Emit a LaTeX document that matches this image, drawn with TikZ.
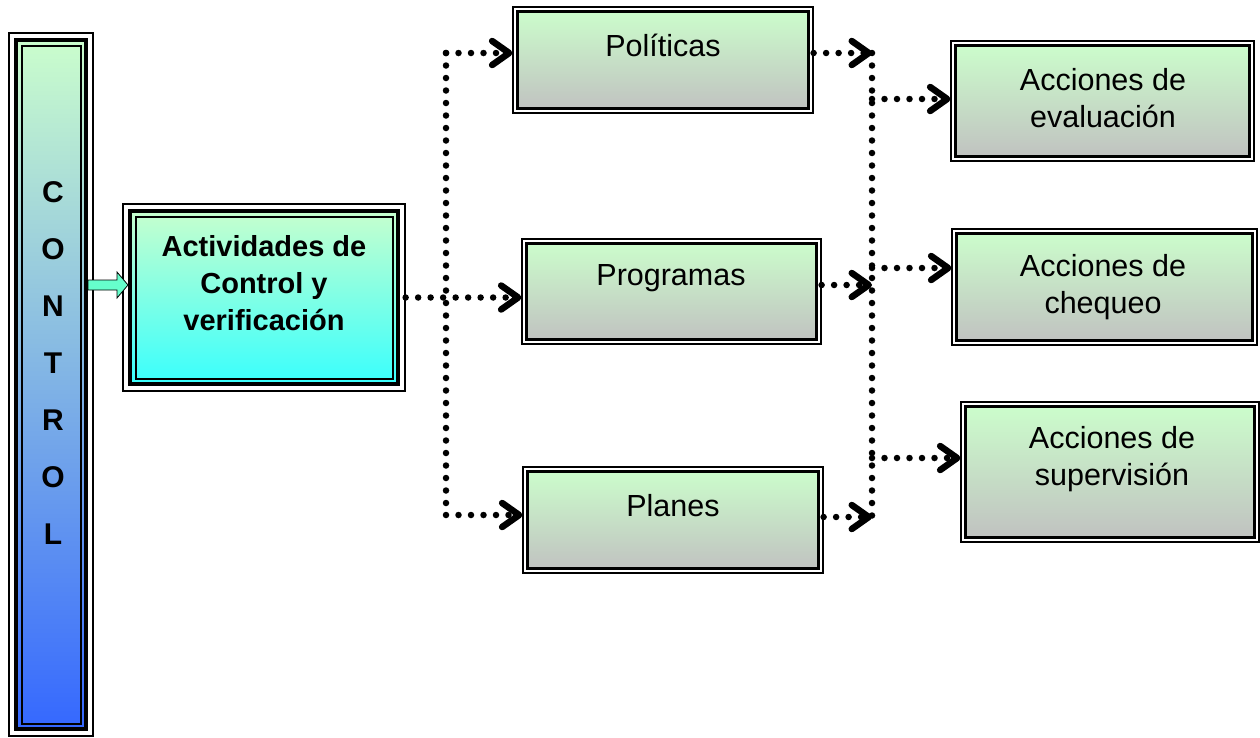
\documentclass[tikz,border=0pt]{standalone}
\usepackage{fontspec}
\setmainfont{Liberation Sans}
\usetikzlibrary{arrows.meta,calc}
\definecolor{lgreen}{RGB}{204,255,204}
\definecolor{ggray}{RGB}{192,192,192}
\definecolor{cyanb}{RGB}{51,255,255}
\definecolor{blueb}{RGB}{51,102,255}
\definecolor{aquaf}{RGB}{102,255,204}
\tikzset{
  dots/.style={line width=6.5pt, line cap=round, dash pattern=on 0pt off 12.5pt},
  chev/.style={-{Straight Barb[length=17pt,width=24pt,line width'=6.5pt,round]}},
  gbox/.style={rectangle, draw=black, line width=1.2pt, fill=white, inner sep=0pt,
    path picture={
      \shadedraw[top color=lgreen, bottom color=ggray, draw=black, line width=3pt]
        ([shift={(4.6pt,-4.6pt)}]path picture bounding box.north west) rectangle
        ([shift={(-4.6pt,4.6pt)}]path picture bounding box.south east);}},
  tbox/.style 2 args={rectangle, draw=black, line width=1.3pt, fill=white, inner sep=0pt,
    path picture={
      \shadedraw[top color=#1, bottom color=#2, draw=black, line width=4.5pt]
        ([shift={(7pt,-7pt)}]path picture bounding box.north west) rectangle
        ([shift={(-7pt,7pt)}]path picture bounding box.south east);
      \draw[black, line width=2pt]
        ([shift={(12.5pt,-12.5pt)}]path picture bounding box.north west) rectangle
        ([shift={(-12.5pt,12.5pt)}]path picture bounding box.south east);}},
  reg/.style={align=center, font=\fontsize{30.5}{37}\selectfont, inner sep=0pt},
  bld/.style={align=center, font=\fontsize{29}{37}\selectfont\bfseries, inner sep=0pt},
}
\begin{document}
\begin{tikzpicture}[x=1pt,y=-1pt]
\useasboundingbox[fill=white] (0,0) rectangle (1260,737);

% boxes
\node[tbox={lgreen}{blueb}, minimum width=84pt, minimum height=703pt] (ctrl) at (51,384.5) {};
\node[tbox={lgreen}{cyanb}, minimum width=282pt, minimum height=187pt] (act) at (264,297.5) {};
\node[gbox, minimum width=300pt, minimum height=106pt] (pol) at (663,60) {};
\node[gbox, minimum width=299pt, minimum height=105pt] (prog) at (671.5,291.5) {};
\node[gbox, minimum width=300pt, minimum height=106pt] (plan) at (673,520) {};
\node[gbox, minimum width=303pt, minimum height=120pt] (eval) at (1102.5,101) {};
\node[gbox, minimum width=305pt, minimum height=116pt] (cheq) at (1104.5,287) {};
\node[gbox, minimum width=298pt, minimum height=140pt] (sup) at (1110,472) {};

% texts
\node[align=center, font=\fontsize{30}{57}\selectfont\bfseries, inner sep=0pt] (ctrl-t) at (53,363.5) {C\\O\\N\\T\\R\\O\\L};
\node[bld] (act-t) at (264,283) {Actividades de\\Control y\\verificación};
\node[reg] (pol-t) at (663,45) {Políticas};
\node[reg] (prog-t) at (671,278) {Programas};
\node[reg] (plan-t) at (673,506) {Planes};
\node[reg] (eval-t) at (1103,98) {Acciones de\\evaluación};
\node[reg] (cheq-t) at (1103,287) {Acciones de\\chequeo};
\node[reg] (sup-t) at (1112,459) {Acciones de\\supervisión};

% block arrow
\draw[fill=aquaf, draw=black, line width=0.8pt]
  (88,280) -- (117,280) -- (117,272) -- (128,285) -- (117,298) -- (117,290) -- (88,290) -- cycle;

% left connectors
\coordinate (L1) at (446,53);
\coordinate (L2) at (446,515);
\draw[dots] (L1) -- (L2);
\draw[dots,chev] (L1) -- (L1 -| pol.west);
\draw[dots,chev] (L2) -- (L2 -| plan.west);
\draw[dots,chev] (act.east) -- (act.east -| prog.west);

% right connectors
\coordinate (R1) at (872,53);
\coordinate (R2) at (872,285);
\coordinate (R3) at (872,517);
\draw[dots] (R1) -- (R3);
\draw[dots,chev] (pol.east |- R1) -- (R1);
\draw[dots,chev] (prog.east |- R2) -- (R2);
\draw[dots,chev] (plan.east |- R3) -- (R3);
\coordinate (E1) at (872,99);
\coordinate (E2) at (872,268);
\coordinate (E3) at (872,458);
\draw[dots,chev] (E1) -- (E1 -| eval.west);
\draw[dots,chev] (E2) -- (E2 -| cheq.west);
\draw[dots,chev] (E3) -- (E3 -| sup.west);
\end{tikzpicture}
\end{document}
